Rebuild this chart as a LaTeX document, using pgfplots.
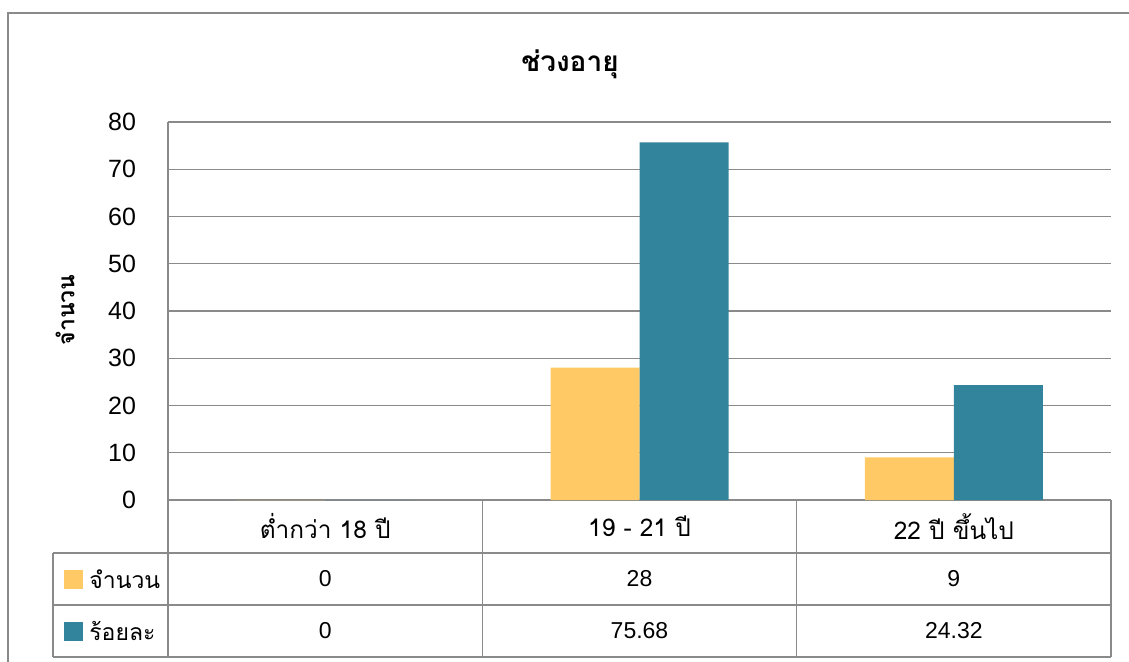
\documentclass[border=0pt]{standalone}
\usepackage{fontspec}
\usepackage{pgfplots}
\pgfplotsset{compat=1.18}
\setmainfont{Liberation Sans}
\newfontfamily\thaifont[Script=Thai]{Loma}
\definecolor{cYel}{HTML}{FFCA66}
\definecolor{cTeal}{HTML}{31849B}
\definecolor{cGrid}{HTML}{8A8A8A}
\begin{document}
\fontsize{11.5}{14}\selectfont
\begin{tikzpicture}
\useasboundingbox (-84pt,-80.5pt) rectangle (480.5pt,250pt);
\draw[cGrid, line width=0.7pt] (-80pt,-90pt) -- (-80pt,243.5pt) -- (490pt,243.5pt);
\begin{axis}[
  at={(0,0)}, anchor=south west,
  scale only axis, width=471.5pt, height=189pt,
  ymin=0, ymax=80, ytick={0,10,...,80},
  xmin=-0.5, xmax=2.5, xtick=\empty,
  ybar=0pt, bar width=44.5pt,
  ymajorgrids, grid style={cGrid, line width=0.7pt},
  axis x line*=bottom, axis y line*=left,
  axis line style={cGrid, line width=0.7pt},
  major tick length=0pt,
  yticklabel style={xshift=-12pt, font=\fontsize{12.5}{15}\selectfont},
  /pgf/number format/assume math mode=true,
  clip=false,
]
\addplot[fill=cYel, draw=none] coordinates {(0,0) (1,28) (2,9)};
\addplot[fill=cTeal, draw=none] coordinates {(0,0) (1,75.68) (2,24.32)};
\end{axis}
% title and y label
\node[font=\thaifont\bfseries\fontsize{14}{17}\selectfont] at (201pt,218pt) {ช่วงอายุ};
\node[rotate=90, font=\thaifont\bfseries\fontsize{11.5}{14}\selectfont] at (-51.5pt,95pt) {จำนวน};
% data table
\begin{scope}[cGrid, line width=0.8pt]
\draw (0pt,0pt) -- (0pt,-78.5pt);
\draw (157.17pt,0pt) -- (157.17pt,-78.5pt);
\draw (314.33pt,0pt) -- (314.33pt,-78.5pt);
\draw (471.5pt,0pt) -- (471.5pt,-78.5pt);
\draw (-57.5pt,-26.5pt) -- (471.5pt,-26.5pt);
\draw (-57.5pt,-52.5pt) -- (471.5pt,-52.5pt);
\draw (-57.5pt,-78.5pt) -- (471.5pt,-78.5pt);
\draw (-57.5pt,-26.5pt) -- (-57.5pt,-78.5pt);
\end{scope}
\node[font=\thaifont\fontsize{12.2}{15}\selectfont] at (78.58pt,-13.25pt) {ต่ำกว่า 18 ปี};
\node[font=\thaifont\fontsize{12.2}{15}\selectfont] at (235.75pt,-13.25pt) {19 - 21 ปี};
\node[font=\thaifont\fontsize{12.2}{15}\selectfont] at (392.92pt,-13.25pt) {22 ปี ขึ้นไป};
\node at (78.58pt,-39.5pt) {0};
\node at (235.75pt,-39.5pt) {28};
\node at (392.92pt,-39.5pt) {9};
\node at (78.58pt,-65.5pt) {0};
\node at (235.75pt,-65.5pt) {75.68};
\node at (392.92pt,-65.5pt) {24.32};
\fill[cYel] (-52pt,-44.25pt) rectangle (-42.5pt,-34.75pt);
\fill[cTeal] (-52pt,-70.25pt) rectangle (-42.5pt,-60.75pt);
\node[font=\thaifont, anchor=west, inner sep=0pt] at (-39.5pt,-39.5pt) {จำนวน};
\node[font=\thaifont, anchor=west, inner sep=0pt] at (-39.5pt,-65.5pt) {ร้อยละ};
\end{tikzpicture}
\end{document}
